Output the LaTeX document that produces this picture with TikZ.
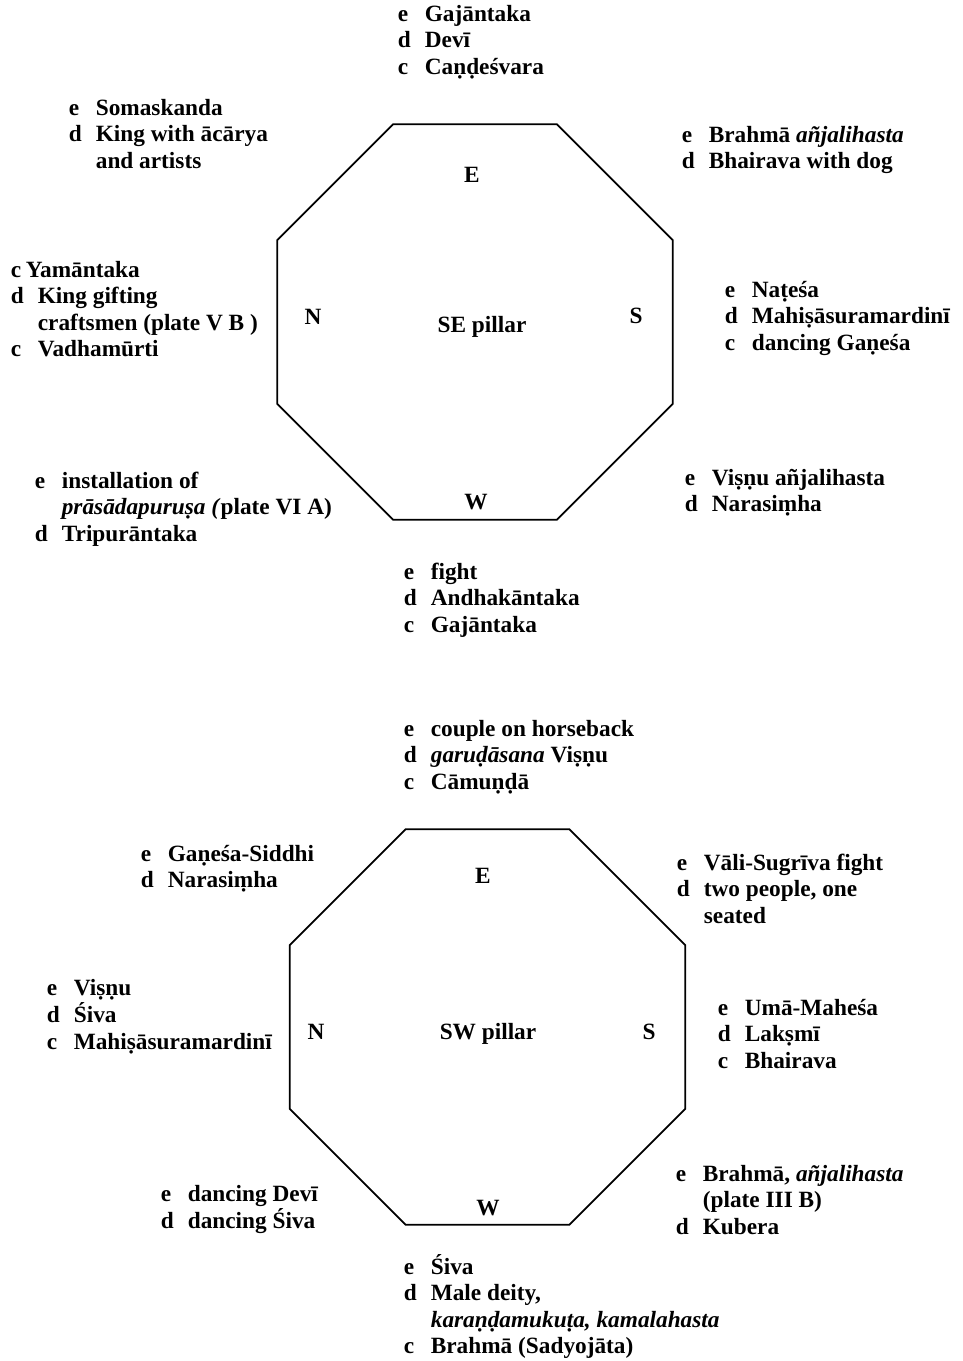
\documentclass[tikz,border=0pt]{standalone}
\usepackage{fontspec}
\setmainfont{Liberation Serif}
\usepackage{array}
\newcommand{\blk}[1]{\begin{tabular}[t]{@{}p{27pt}@{}l@{}}#1\end{tabular}}

\begin{document}
\begin{tikzpicture}[x=1pt,y=-1pt,line width=1.7pt,
  font={\fontsize{23.3}{26.5}\selectfont\bfseries},
  every node/.style={inner sep=0pt},
  lbl/.style={anchor=base west},
  dir/.style={anchor=base}]
  \useasboundingbox (0,0) rectangle (963,1361);
  % SE pillar
  \coordinate (sec) at (475,322);
  \draw[shift={(sec)}] (22.5:214) foreach \a in {67.5,112.5,...,337.5} {-- (\a:214)} -- cycle;
  \node[dir] (seE) at (472,182) {E};
  \node[dir] (seN) at (313,324) {N};
  \node[dir] (seS) at (636,323) {S};
  \node[dir] (seW) at (476,509) {W};
  \node[dir] (se) at (482,332) {SE pillar};
  \node[lbl] (seT) at (397,21) {\blk{e & Gajāntaka\\ d & Devī\\ c & Caṇḍeśvara}};
  \node[lbl] (seUL) at (68,115) {\blk{e & Somaskanda\\ d & King with ācārya\\ & and artists}};
  \node[lbl] (seUR) at (681,142) {\blk{e & Brahmā \textit{añjalihasta}\\ d & Bhairava with dog}};
  \node[lbl] (seL) at (10,277) {\blk{c & \hspace*{-12pt}Yamāntaka\\ d & King gifting\\ & craftsmen  (plate V B )\\ c & Vadhamūrti}};
  \node[lbl] (seR) at (724,297) {\blk{e & Naṭeśa\\ d & Mahiṣāsuramardinī\\ c & dancing Gaṇeśa}};
  \node[lbl] (seLL) at (34,488) {\blk{e & installation of\\ & \textit{prāsādapuruṣa (}plate VI A)\\ d & Tripurāntaka}};
  \node[lbl] (seLR) at (684,485) {\blk{e & Viṣṇu añjalihasta\\ d & Narasiṃha}};
  \node[lbl] (seB) at (403,579) {\blk{e & fight\\ d & Andhakāntaka\\ c & Gajāntaka}};
  % SW pillar
  \coordinate (swc) at (487.5,1027);
  \draw[shift={(swc)}] (22.5:214) foreach \a in {67.5,112.5,...,337.5} {-- (\a:214)} -- cycle;
  \node[dir] (swE) at (483,883) {E};
  \node[dir] (swN) at (316,1039) {N};
  \node[dir] (swS) at (649,1039) {S};
  \node[dir] (swW) at (488,1215) {W};
  \node[dir] (sw) at (488,1039) {SW pillar};
  \node[lbl] (swT) at (403,736) {\blk{e & couple on horseback\\ d & \textit{garuḍāsana} Viṣṇu\\ c & Cāmuṇḍā}};
  \node[lbl] (swUL) at (140,861) {\blk{e & Gaṇeśa-Siddhi\\ d & Narasiṃha}};
  \node[lbl] (swUR) at (676,870) {\blk{e & Vāli-Sugrīva fight\\ d & two people, one\\ & seated}};
  \node[lbl] (swL) at (46,995) {\blk{e & Viṣṇu\\ d & Śiva\\ c & Mahiṣāsuramardinī}};
  \node[lbl] (swR) at (717,1015) {\blk{e & Umā-Maheśa\\ d & Lakṣmī\\ c & Bhairava}};
  \node[lbl] (swLL) at (160,1201) {\blk{e & dancing Devī\\ d & dancing Śiva}};
  \node[lbl] (swLR) at (675,1181) {\blk{e & Brahmā, \textit{añjalihasta}\\ & (plate III B)\\ d & Kubera}};
  \node[lbl] (swB) at (403,1274) {\blk{e & Śiva\\ d & Male deity,\\ & \textit{karaṇḍamukuṭa, kamalahasta}\\ c & Brahmā (Sadyojāta)}};
\end{tikzpicture}
\end{document}
